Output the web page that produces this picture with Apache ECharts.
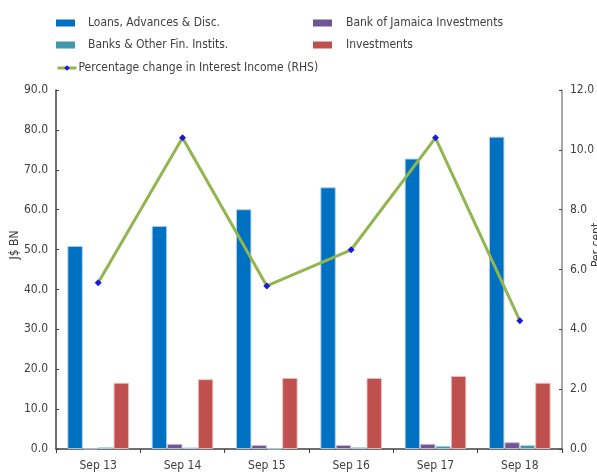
<!DOCTYPE html>
<html>
<head>
<meta charset="utf-8">
<script src="https://cdn.jsdelivr.net/npm/echarts@6/dist/echarts.min.js"></script>
<style>
  html, body { margin: 0; padding: 0; background: #fff; }
  #chart { width: 597px; height: 474px; }
</style>
</head>
<body>
<div id="chart"></div>
<script>
// Category labels (September of each year)
const categories = ['Sep 13', 'Sep 14', 'Sep 15', 'Sep 16', 'Sep 17', 'Sep 18'];

// Interest-earning assets, J$ billions
const loans = [50.9, 55.9, 60.1, 65.6, 72.8, 78.3];
const bojInvestments = [0.1, 1.3, 1.0, 1.0, 1.3, 1.7];
const banksOtherFin = [0.5, 0.4, 0.1, 0.5, 0.8, 1.0];
const investments = [16.6, 17.5, 17.8, 17.8, 18.3, 16.6];

// Percentage change in interest income, per cent (right-hand scale)
const interestIncomeChange = [5.56, 10.4, 5.45, 6.66, 10.4, 4.29];

// Axis tick settings
const leftMax = 90, leftInterval = 10;
const rightMax = 12, rightInterval = 2;

const FONT = '"DejaVu Sans Condensed", "Liberation Sans", sans-serif';
const TEXT = '#404040';

const names = {
  loans: 'Loans, Advances & Disc.',
  boj: 'Bank of Jamaica Investments',
  banks: 'Banks & Other Fin. Instits.',
  inv: 'Investments',
  pct: 'Percentage change in Interest Income (RHS)'
};

function legendAt(name, left, top, icon, w, h, gap) {
  const lg = {
    data: [name], left: left, top: top,
    itemWidth: w, itemHeight: h, itemGap: 0,
    padding: 0,
    itemStyle: { borderWidth: 0 },
    textStyle: { fontFamily: FONT, fontSize: 12, color: TEXT, padding: [0, 0, 0, gap] },
    selectedMode: false
  };
  if (icon) lg.icon = icon;
  else lg.lineStyle = { width: 3, color: '#92b54f' };
  return lg;
}

function barSeries(name, data, color, border) {
  return {
    name: name, type: 'bar', data: data, yAxisIndex: 0,
    barGap: '0%', barCategoryGap: '27%',
    itemStyle: { color: color, borderColor: border, borderWidth: 1 },
    emphasis: { disabled: true }
  };
}

const chart = echarts.init(document.getElementById('chart'), null, { renderer: 'canvas' });
chart.setOption({
  animation: false,
  backgroundColor: '#ffffff',
  grid: { left: 56, right: 34, top: 90, bottom: 25 },
  legend: [
    legendAt(names.loans, 56, 17, 'rect', 19, 7, 8),
    legendAt(names.banks, 56, 39, 'rect', 19, 7, 8),
    legendAt(names.boj, 313, 17, 'rect', 19, 7, 9),
    legendAt(names.inv, 313, 39, 'rect', 19, 7, 9),
    legendAt(names.pct, 56, 62, null, 19, 7, -3)
  ],
  xAxis: {
    type: 'category', data: categories,
    axisLine: { lineStyle: { color: '#404040', width: 1.5 } },
    axisTick: { show: true, inside: false, length: 4, lineStyle: { color: '#404040' } },
    axisLabel: { fontFamily: FONT, fontSize: 12, color: TEXT, margin: 11 }
  },
  yAxis: [
    {
      type: 'value', min: 0, max: leftMax, interval: leftInterval, position: 'left',
      splitLine: { show: false },
      axisLine: { show: true, lineStyle: { color: '#404040', width: 1.5 } },
      axisTick: { show: true, inside: true, length: 3, lineStyle: { color: '#404040' } },
      axisLabel: { fontFamily: FONT, fontSize: 12, color: TEXT, margin: 8,
        formatter: v => v.toFixed(1) }
    },
    {
      type: 'value', min: 0, max: rightMax, interval: rightInterval, position: 'right',
      splitLine: { show: false },
      axisLine: { show: true, lineStyle: { color: '#8c8c8c', width: 1.5 } },
      axisTick: { show: true, inside: true, length: 3, lineStyle: { color: '#404040' } },
      axisLabel: { fontFamily: FONT, fontSize: 12, color: TEXT, margin: 8,
        formatter: v => v.toFixed(1) }
    }
  ],
  graphic: [
    { type: 'text', x: 15, y: 245, rotation: Math.PI / 2,
      style: { text: 'J$ BN', fontFamily: FONT, fontSize: 12, fill: TEXT,
        textAlign: 'center', textVerticalAlign: 'middle' } },
    { type: 'text', x: 597, y: 245, rotation: Math.PI / 2,
      style: { text: 'Per cent', fontFamily: FONT, fontSize: 12, fill: TEXT,
        textAlign: 'center', textVerticalAlign: 'middle' } }
  ],
  series: [
    barSeries(names.loans, loans, '#0070c0', 'rgba(170,205,235,0.9)'),
    barSeries(names.boj, bojInvestments, '#6f5597', 'rgba(200,190,220,0.9)'),
    barSeries(names.banks, banksOtherFin, '#4198ac', 'rgba(180,215,225,0.9)'),
    barSeries(names.inv, investments, '#c0504d', 'rgba(235,190,190,0.9)'),
    {
      name: names.pct, type: 'line', yAxisIndex: 1, data: interestIncomeChange,
      lineStyle: { color: '#92b54f', width: 3 },
      itemStyle: { color: '#1a1adc' },
      symbol: 'diamond', symbolSize: 7, showSymbol: true,
      z: 5,
      emphasis: { disabled: true }
    }
  ]
});
</script>
</body>
</html>
